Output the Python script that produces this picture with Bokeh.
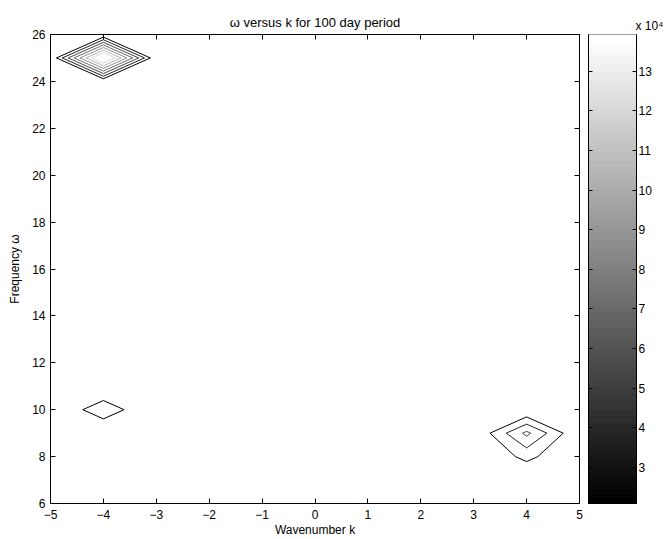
import numpy as np
from bokeh.plotting import figure
from bokeh.models import Range1d, FixedTicker, LinearAxis
from bokeh.layouts import row
from bokeh.embed import file_html
from bokeh.resources import INLINE

# ---------------- data ----------------
wavenumber_k = [-5, -4, -3, -2, -1, 0, 1, 2, 3, 4, 5]
frequency_omega = [6, 7, 8, 9, 10, 11, 12, 13, 14, 15, 16,
                   17, 18, 19, 20, 21, 22, 23, 24, 25, 26]

background_power = 3930.0
peak_k = [-4, -4, 4, 4]
peak_omega = [25, 10, 9, 8]
peak_power = [156200.0, 31700.0, 58900.0, 25400.0]

x_ticks = [-5, -4, -3, -2, -1, 0, 1, 2, 3, 4, 5]
x_tick_labels = ["\u22125", "\u22124", "\u22123", "\u22122", "\u22121",
                 "0", "1", "2", "3", "4", "5"]
y_ticks = [6, 8, 10, 12, 14, 16, 18, 20, 22, 24, 26]
cbar_ticks = [3, 4, 5, 6, 7, 8, 9, 10, 11, 12, 13]
cbar_scale = 1e4
cbar_exponent_text = "x 10\u2074"

title_text = "\u03c9 versus k for 100 day period"
x_label = "Wavenumber k"
y_label = "Frequency \u03c9"

FONT = "Liberation Sans"
TICK_FS = "12px"
LABEL_FS = "12px"

# ---------------- grid ----------------
Z = np.full((len(frequency_omega), len(wavenumber_k)), background_power)
for kk, ww, pw in zip(peak_k, peak_omega, peak_power):
    Z[frequency_omega.index(ww), wavenumber_k.index(kk)] = pw
X, Y = np.meshgrid(np.array(wavenumber_k, float), np.array(frequency_omega, float))

# automatic contour levels (8 levels strictly between min and max)
levels = list(np.linspace(Z.min(), Z.max(), 10)[1:-1])
c_low, c_high = levels[0], levels[-1]

n_gray = 64
gray64 = ["#%02x%02x%02x" % ((int(round(i * 255 / (n_gray - 1))),) * 3) for i in range(n_gray)]


def level_color(L):
    idx = int((L - c_low) / (c_high - c_low) * n_gray)
    return gray64[min(max(idx, 0), n_gray - 1)]


line_colors = [level_color(L) for L in levels]


def style_axis(ax, ticks, overrides=None, show_labels=True, tick_len=5, standoff=5):
    ax.ticker = FixedTicker(ticks=ticks)
    ax.major_tick_in = tick_len
    ax.major_tick_out = 0
    ax.minor_tick_line_color = None
    ax.axis_line_color = "black"
    ax.major_tick_line_color = "black"
    ax.major_label_text_font = FONT
    if overrides:
        ax.major_label_overrides = overrides
    if show_labels:
        ax.major_label_text_color = "black"
        ax.major_label_text_font_size = TICK_FS
        ax.major_label_standoff = standoff
    else:
        # tick marks only: labels are not painted
        ax.major_label_text_color = None
        ax.major_label_text_font_size = "1px"
        ax.major_label_standoff = 0


# ---------------- main plot ----------------
p = figure(width=588, height=539,
           x_range=Range1d(-5, 5), y_range=Range1d(6, 26),
           output_backend="svg", toolbar_location=None, title=title_text,
           min_border_left=50, min_border_right=9,
           min_border_top=34, min_border_bottom=36,
           background_fill_color="white", border_fill_color="white")
p.contour(X, Y, Z, levels, line_color=line_colors, line_width=1)

p.xgrid.visible = False
p.ygrid.visible = False
p.outline_line_color = "black"

xo = {float(t): s for t, s in zip(x_ticks, x_tick_labels)}
style_axis(p.xaxis[0], x_ticks, overrides=xo, standoff=6)
style_axis(p.yaxis[0], y_ticks, standoff=5)
p.xaxis.axis_label = x_label
p.yaxis.axis_label = y_label
for ax in (p.xaxis[0], p.yaxis[0]):
    ax.axis_label_text_font = FONT
    ax.axis_label_text_font_size = LABEL_FS
    ax.axis_label_text_font_style = "normal"
    ax.axis_label_text_color = "black"
p.xaxis.axis_label_standoff = 1
p.yaxis.axis_label_standoff = 7

top_axis = LinearAxis()
style_axis(top_axis, x_ticks, show_labels=False)
p.add_layout(top_axis, "above")
right_axis = LinearAxis()
style_axis(right_axis, y_ticks, show_labels=False)
p.add_layout(right_axis, "right")

p.title.align = "center"
p.title.text_font = FONT
p.title.text_font_size = "13px"
p.title.text_font_style = "normal"
p.title.text_color = "black"
p.title.standoff = 10

# ---------------- colour bar ----------------
cb = figure(width=78, height=539,
            x_range=Range1d(0, 1),
            y_range=Range1d(c_low / cbar_scale, c_high / cbar_scale),
            output_backend="svg", toolbar_location=None,
            x_axis_location=None, y_axis_location=None,
            title=cbar_exponent_text,
            min_border_left=0, min_border_right=30,
            min_border_top=34, min_border_bottom=36,
            background_fill_color="white", border_fill_color="white")
band_edges = np.linspace(c_low, c_high, n_gray + 1) / cbar_scale
cb.quad(left=0, right=1, bottom=band_edges[:-1], top=band_edges[1:],
        fill_color=gray64, line_color=gray64, line_width=1)
cb.outline_line_color = "black"
for g in cb.grid:
    g.visible = False

cb_left = LinearAxis()
style_axis(cb_left, cbar_ticks, show_labels=False, tick_len=4)
cb.add_layout(cb_left, "left")
cb_right = LinearAxis()
style_axis(cb_right, cbar_ticks, tick_len=4, standoff=2)
cb.add_layout(cb_right, "right")

cb.title.align = "left"
cb.title.offset = 47
cb.title.text_font = FONT
cb.title.text_font_size = "12px"
cb.title.text_font_style = "normal"
cb.title.text_color = "black"
cb.title.standoff = 4

layout = row(p, cb)
open("out.html", "w").write(file_html(layout, INLINE))
